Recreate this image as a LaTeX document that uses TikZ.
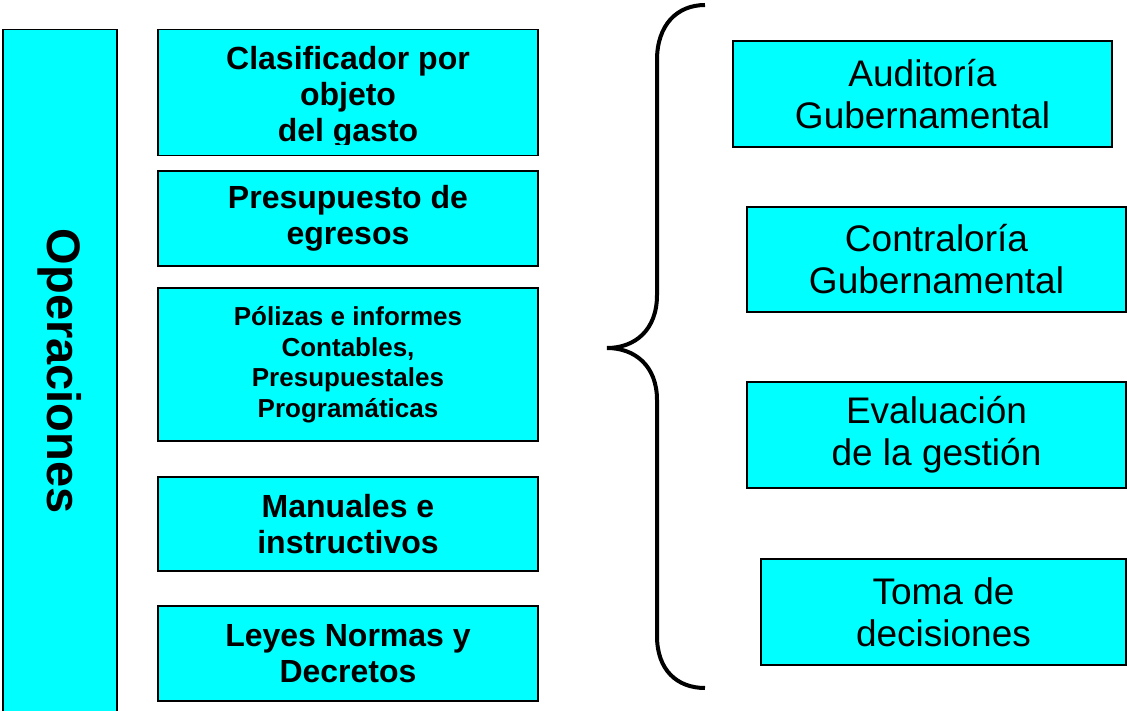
\documentclass[tikz,border=0pt]{standalone}
\usepackage{fontspec}
\setmainfont{Liberation Sans}
\definecolor{aqua}{RGB}{0,255,255}
\begin{document}
\begin{tikzpicture}[x=1pt,y=-1pt,
  caja/.style={draw=black, fill=aqua, line width=1.5pt, inner sep=0pt},
  txtizq/.style={font=\bfseries\fontsize{32}{36}\selectfont, align=center},
  izq/.style={caja, txtizq, minimum width=380},
  der/.style={caja, font=\fontsize{37}{42}\selectfont, align=center}]
\useasboundingbox (0,0) rectangle (1127,711);
% columna de operaciones
\node[caja, rotate=-90, minimum width=683.5, minimum height=114,
  font=\bfseries\fontsize{47}{56}\selectfont] (oper) at (60,371.25) {Operaciones};
% cajas de la izquierda
\node[izq, minimum height=126] (clasif) at (348,92.5) {};
\begin{scope}
\clip (158,29.5) rectangle (538,145);
\node[txtizq] (clasiftxt) at (348,97.6) {Clasificador por\\objeto\\del gasto};
\end{scope}
\node[izq, minimum height=95] (presup) at (348,218.5) {Presupuesto de\\egresos};
\node[izq, minimum height=153, font=\bfseries\fontsize{26}{30.5}\selectfont] (polizas) at (348,364.5)
  {Pólizas e informes\\Contables,\\Presupuestales\\Programáticas};
\node[izq, minimum height=94] (manuales) at (348,524) {Manuales e\\instructivos};
\node[izq, minimum height=95] (leyes) at (348,653.5) {Leyes Normas y\\Decretos};
% llave
\draw[line width=4pt] (705,5) .. controls (677,5) and (657,25) .. (657,60) -- (657,295)
  .. controls (657,330) and (635,348) .. (607,348)
  .. controls (635,348) and (657,366) .. (657,400) -- (657,636)
  .. controls (657,670) and (677,688) .. (705,688);
% cajas de la derecha
\node[der, minimum width=379, minimum height=106] (auditoria) at (922.5,94) {Auditoría\\Gubernamental};
\node[der, minimum width=379, minimum height=105] (contraloria) at (936.5,259.5) {Contraloría\\Gubernamental};
\node[der, minimum width=379, minimum height=106] (evaluacion) at (936.5,435) {Evaluación\\de la gestión};
\node[der, minimum width=365, minimum height=106] (toma) at (943.5,612) {Toma de\\decisiones};
\end{tikzpicture}
\end{document}
